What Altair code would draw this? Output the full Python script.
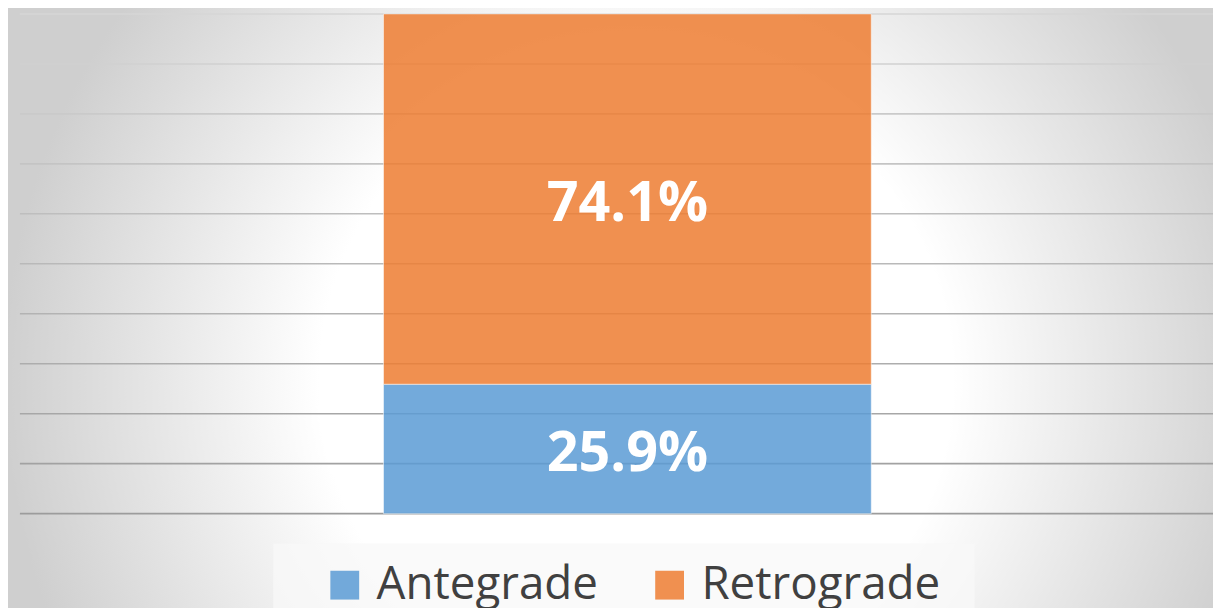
import altair as alt
import pandas as pd

# ---- data ----
categories = ["Antegrade", "Retrograde"]
values = [25.9, 74.1]
labels = ["25.9%", "74.1%"]
colors = ["#5B9BD5", "#ED7D31"]
group = ["All", "All"]
grid_values = list(range(0, 101, 10))

df = pd.DataFrame({"group": group, "direction": categories, "value": values, "label": labels})
grid_df = pd.DataFrame({"g": grid_values})
one = pd.DataFrame({"k": [0]})

gradient = {
    "gradient": "radial",
    "x1": 0.5, "y1": 0.5, "r1": 0,
    "x2": 0.5, "y2": 0.5, "r2": 0.49,
    "stops": [
        {"offset": 0, "color": "#ffffff"},
        {"offset": 0.5, "color": "#ffffff"},
        {"offset": 1, "color": "#cfcfcf"},
    ],
}

background = alt.Chart(one).mark_rect(fill=gradient).encode(
    x=alt.value(-30), x2=alt.value(1270), y=alt.value(-282), y2=alt.value(1018)
)

yscale = alt.Scale(domain=[0, 100], nice=False)

grid = alt.Chart(grid_df).mark_rule(strokeWidth=1.6).encode(
    y=alt.Y("g:Q", scale=yscale, axis=None),
    stroke=alt.Stroke("g:Q", scale=alt.Scale(domain=[0, 100], range=["#9c9c9c", "#d6d6d6"]),
                      legend=None),
)

legend_box = alt.Chart(one).mark_rect(fill="#f8f8f8", opacity=0.75).encode(
    x=alt.value(255), x2=alt.value(961), y=alt.value(533), y2=alt.value(640)
)

xscale = alt.Scale(paddingInner=0, paddingOuter=0.723, align=0.5155)

base = alt.Chart(df).transform_stack(
    stack="value", groupby=["group"], as_=["v0", "v1"],
    sort=[alt.SortField("direction", order="ascending")],
).transform_calculate(mid="(datum.v0 + datum.v1) / 2")

bars = base.mark_bar(fillOpacity=0.85, stroke="white", strokeWidth=1, strokeOpacity=0.5).encode(
    x=alt.X("group:N", axis=None, scale=xscale),
    y=alt.Y("v0:Q", scale=yscale, axis=None),
    y2="v1:Q",
    color=alt.Color("direction:N", scale=alt.Scale(domain=categories, range=colors),
                    legend=alt.Legend(title=None, orient="none", legendX=304, legendY=552,
                                      direction="horizontal", symbolType="square",
                                      symbolSize=841, symbolOpacity=0.85, symbolStrokeWidth=0,
                                      labelFont="Open Sans", labelFontSize=46,
                                      labelColor="#404040", labelOffset=9, labelLimit=400,
                                      columnPadding=49, padding=0, rowPadding=0)),
)

text = base.mark_text(font="Open Sans", fontWeight="bold", fontSize=56, color="white",
                      baseline="middle", dy=5).encode(
    x=alt.X("group:N", axis=None, scale=xscale),
    y=alt.Y("mid:Q"),
    text="label:N",
)

chart = alt.layer(background, grid, legend_box, bars, text).properties(
    width=1201, height=503,
    padding={"left": 12, "top": 4, "right": 0, "bottom": 93},
    autosize=alt.AutoSizeParams(type="none"),
).configure_view(stroke=None)

chart.save("out.html", embed_options={"renderer": "svg", "actions": False})
